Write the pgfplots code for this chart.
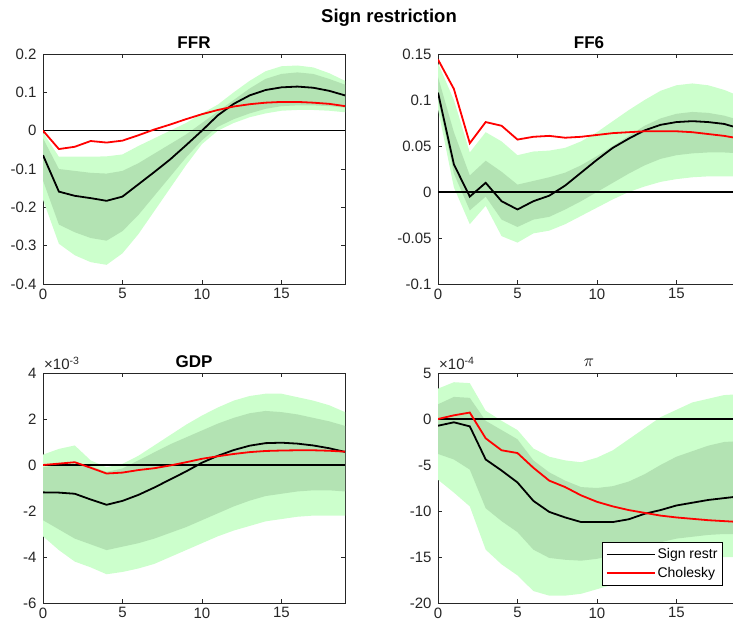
\documentclass[border=0pt]{standalone}
\usepackage{pgfplots}
\pgfplotsset{compat=1.18}
\usepackage{pgfplotstable}
\usepgfplotslibrary{fillbetween}
\usepackage{fontspec}
\setmainfont{Liberation Sans}

\definecolor{axgray}{RGB}{38,38,38}
\definecolor{bandout}{RGB}{204,255,204}
\definecolor{bandin}{RGB}{179,227,179}
\definecolor{cholred}{RGB}{255,0,0}

% Columns: horizon, outer/inner lower band, inner/outer upper band,
% sign-restriction median response, Cholesky response
\pgfplotstableread{
t olo ilo ihi ohi sign chol
0 -0.18 -0.13 -0.02 -0.005 -0.064 0
1 -0.295 -0.245 -0.10 -0.068 -0.159 -0.048
2 -0.325 -0.265 -0.105 -0.068 -0.170 -0.042
3 -0.343 -0.28 -0.11 -0.068 -0.176 -0.027
4 -0.35 -0.287 -0.112 -0.067 -0.183 -0.031
5 -0.32 -0.262 -0.105 -0.062 -0.172 -0.026
6 -0.27 -0.22 -0.085 -0.04 -0.140 -0.012
7 -0.21 -0.17 -0.06 -0.02 -0.108 0.003
8 -0.15 -0.12 -0.035 0.0 -0.075 0.016
9 -0.09 -0.07 -0.01 0.02 -0.038 0.030
10 -0.035 -0.025 0.02 0.045 0.0 0.043
11 0.0 0.01 0.05 0.068 0.040 0.054
12 0.02 0.03 0.08 0.10 0.070 0.063
13 0.035 0.045 0.11 0.13 0.092 0.069
14 0.045 0.057 0.135 0.155 0.106 0.073
15 0.052 0.064 0.148 0.168 0.113 0.075
16 0.054 0.066 0.152 0.17 0.115 0.075
17 0.054 0.066 0.148 0.165 0.112 0.073
18 0.052 0.064 0.135 0.15 0.104 0.070
19 0.048 0.06 0.12 0.13 0.092 0.064
}\ffr

\pgfplotstableread{
t olo ilo ihi ohi sign chol
0 0.09 0.10 0.125 0.14 0.108 0.144
1 0.005 0.02 0.065 0.10 0.030 0.112
2 -0.035 -0.02 0.018 0.043 -0.005 0.053
3 -0.015 -0.005 0.034 0.065 0.010 0.076
4 -0.048 -0.03 0.022 0.055 -0.010 0.072
5 -0.055 -0.038 0.008 0.04 -0.019 0.057
6 -0.045 -0.03 0.012 0.044 -0.010 0.060
7 -0.042 -0.027 0.016 0.045 -0.004 0.061
8 -0.035 -0.019 0.021 0.048 0.007 0.059
9 -0.026 -0.01 0.029 0.055 0.021 0.060
10 -0.017 0.0 0.039 0.065 0.035 0.062
11 -0.008 0.01 0.05 0.077 0.048 0.064
12 0.0 0.02 0.061 0.089 0.058 0.065
13 0.006 0.029 0.072 0.10 0.067 0.066
14 0.011 0.036 0.08 0.11 0.073 0.066
15 0.014 0.04 0.085 0.116 0.076 0.066
16 0.016 0.042 0.087 0.118 0.077 0.065
17 0.017 0.043 0.086 0.116 0.076 0.063
18 0.017 0.043 0.083 0.111 0.074 0.061
19 0.017 0.042 0.078 0.104 0.069 0.058
}\ffsix

% GDP, in units of 1e-3
\pgfplotstableread{
t olo ilo ihi ohi sign chol
0 -3.1 -2.4 -0.1 0.45 -1.19 0
1 -3.7 -2.8 0.0 0.7 -1.20 0.06
2 -4.2 -3.2 0.05 0.85 -1.25 0.12
3 -4.45 -3.45 -0.05 0.2 -1.50 -0.12
4 -4.75 -3.7 -0.3 -0.1 -1.73 -0.37
5 -4.65 -3.55 -0.15 0.05 -1.56 -0.33
6 -4.5 -3.4 0.2 0.4 -1.30 -0.22
7 -4.3 -3.2 0.55 0.85 -0.98 -0.14
8 -4.0 -2.95 0.9 1.3 -0.63 -0.02
9 -3.7 -2.7 1.2 1.75 -0.28 0.12
10 -3.4 -2.4 1.5 2.15 0.10 0.27
11 -3.1 -2.1 1.8 2.5 0.40 0.38
12 -2.85 -1.8 2.05 2.8 0.65 0.48
13 -2.65 -1.55 2.25 3.0 0.84 0.56
14 -2.45 -1.35 2.35 3.1 0.95 0.61
15 -2.35 -1.25 2.3 3.1 0.97 0.63
16 -2.25 -1.15 2.2 2.95 0.93 0.64
17 -2.2 -1.1 2.05 2.8 0.85 0.64
18 -2.2 -1.1 1.9 2.6 0.73 0.62
19 -2.2 -1.15 1.7 2.3 0.57 0.58
}\gdp

% Inflation, in units of 1e-4
\pgfplotstableread{
t olo ilo ihi ohi sign chol
0 -6.6 -3.8 1.6 3.3 -0.73 0
1 -8.0 -4.4 2.4 4.0 -0.36 0.4
2 -9.5 -5.5 2.3 3.9 -0.80 0.7
3 -14.2 -9.7 -0.2 0.9 -4.4 -2.1
4 -15.8 -11.1 -1.2 -0.2 -5.6 -3.4
5 -17.0 -12.3 -2.2 -1.2 -6.9 -3.7
6 -18.7 -14.2 -4.5 -3.2 -8.9 -5.3
7 -19.2 -15.1 -5.8 -4.1 -10.1 -6.7
8 -19.2 -15.3 -6.7 -4.5 -10.7 -7.4
9 -19.0 -15.4 -7.4 -4.7 -11.2 -8.3
10 -18.5 -15.2 -7.5 -4.2 -11.2 -9.0
11 -18.0 -14.8 -7.3 -3.4 -11.2 -9.5
12 -17.3 -14.3 -6.8 -2.2 -10.9 -9.9
13 -16.6 -13.8 -6.0 -1.0 -10.3 -10.2
14 -16.0 -13.4 -5.0 0.2 -9.9 -10.5
15 -15.6 -13.0 -4.1 1.0 -9.4 -10.7
16 -15.3 -12.8 -3.5 1.8 -9.1 -10.85
17 -15.1 -12.6 -2.9 2.2 -8.8 -11.0
18 -15.0 -12.5 -2.5 2.6 -8.6 -11.1
19 -15.0 -12.5 -2.4 2.7 -8.4 -11.2
}\infl

\pgfplotsset{
  irf/.style={
    width=302pt, height=230pt, scale only axis,
    xmin=0, xmax=19, xtick={0,5,10,15},
    axis line style={axgray, line width=0.6pt},
    tick style={axgray, line width=0.6pt},
    major tick length=4pt,
    ticklabel style={font=\fontsize{15}{17}\selectfont, text=axgray},
    yticklabel style={xshift=-3pt},
    xticklabel style={yshift=-1pt},
    /pgf/number format/assume math mode=true,
    title style={font=\bfseries\fontsize{17}{19}\selectfont, yshift=-4pt},
    legend style={font=\fontsize{14}{16}\selectfont, draw=black, fill=white,
      line width=0.6pt, inner xsep=3pt, inner ysep=4pt, row sep=3pt},
    legend cell align=left,
    legend image code/.code={\draw[##1] (0pt,0pt) -- (48pt,0pt);},
  },
}

% Bands, zero line and the two responses of one panel
\newcommand{\irfpanel}[1]{
  \addplot[name path=olo, draw=none, forget plot] table[x=t, y=olo]{#1};
  \addplot[name path=ohi, draw=none, forget plot] table[x=t, y=ohi]{#1};
  \addplot[name path=ilo, draw=none, forget plot] table[x=t, y=ilo]{#1};
  \addplot[name path=ihi, draw=none, forget plot] table[x=t, y=ihi]{#1};
  \addplot[bandout, forget plot] fill between[of=olo and ohi];
  \addplot[bandin, forget plot] fill between[of=ilo and ihi];
  \addplot[black, line width=1.2pt, forget plot] coordinates {(0,0) (19,0)};
  \addplot[black, line width=1.8pt] table[x=t, y=sign]{#1};
  \addplot[cholred, line width=1.8pt] table[x=t, y=chol]{#1};
}

\begin{document}
\begin{tikzpicture}

\begin{axis}[irf, at={(43pt,346pt)}, anchor=south west,
  ymin=-0.4, ymax=0.2, ytick={-0.4,-0.3,...,0.2}, title={FFR}]
  \irfpanel{\ffr}
\end{axis}

\begin{axis}[irf, at={(438pt,346pt)}, anchor=south west,
  ymin=-0.1, ymax=0.15, ytick={-0.1,-0.05,0,0.05,0.1,0.15},
  yticklabels={-0.1,-0.05,0,0.05,0.1,0.15}, title={FF6}]
  \irfpanel{\ffsix}
\end{axis}

\begin{axis}[irf, name=gdp, at={(43pt,27pt)}, anchor=south west,
  ymin=-6, ymax=4, ytick={-6,-4,...,4}, title={GDP}]
  \irfpanel{\gdp}
\end{axis}

\begin{axis}[irf, name=infl, at={(438pt,27pt)}, anchor=south west,
  ymin=-20, ymax=5, ytick={-20,-15,...,5},
  title={$\pi$}, title style={font=\fontsize{18}{20}\selectfont, yshift=1pt},
  legend style={at={(0.943,0.264)}, anchor=north east}]
  \irfpanel{\infl}
  \addlegendentry{Sign restr}
  \addlegendentry{Cholesky}
\end{axis}

\node[anchor=south west, inner sep=0pt, text=axgray,
  font=\fontsize{15}{17}\selectfont] at ([xshift=1pt, yshift=3pt]gdp.north west)
  {×10\textsuperscript{-3}};
\node[anchor=south west, inner sep=0pt, text=axgray,
  font=\fontsize{15}{17}\selectfont] at ([xshift=1pt, yshift=3pt]infl.north west)
  {×10\textsuperscript{-4}};

\node[font=\bfseries\fontsize{18.5}{21}\selectfont] at (389pt,612pt) {Sign restriction};

% page frame: the right-hand panels run past the page edge
\pgfresetboundingbox
\useasboundingbox (0pt,0pt) rectangle (733pt,630pt);
\end{tikzpicture}
\end{document}
